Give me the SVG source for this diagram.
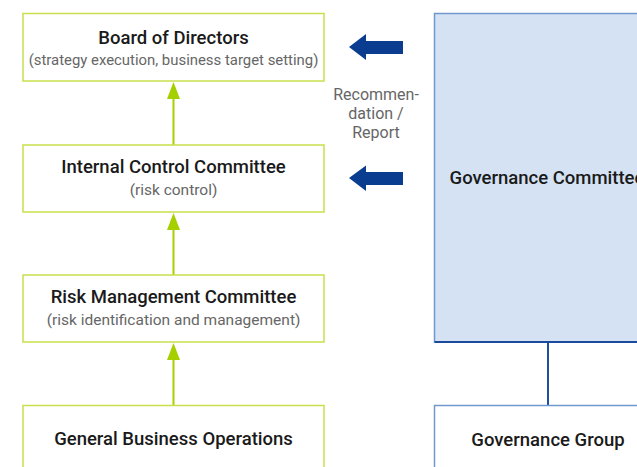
<svg xmlns="http://www.w3.org/2000/svg" width="637" height="467" viewBox="0 0 637 467">
<style>
.gbox{fill:#ffffff;stroke:#c9e04c;stroke-width:1.5}
.bbox{fill:#d4e2f4;stroke:#7197cf;stroke-width:1.5}
.wbox{fill:#ffffff;stroke:#7197cf;stroke-width:1.5}
.t{font-family:Roboto,"Liberation Sans",sans-serif;font-size:18.5px;font-weight:500;fill:#1a1a1a;text-anchor:middle}
.s{font-family:Roboto,"Liberation Sans",sans-serif;font-size:15.5px;fill:#666666;text-anchor:middle}
.r{font-family:Roboto,"Liberation Sans",sans-serif;font-size:16px;fill:#666666;text-anchor:middle}
.g{stroke:#a6cf00;stroke-width:2;fill:none}
.ga{fill:#a6cf00}
.ba{fill:#0a3d8f}
</style>
<g id="connectors">
<line class="g" x1="173.5" y1="145" x2="173.5" y2="96"/>
<polygon class="ga" points="173.5,82 180,99 167,99"/>
<line class="g" x1="173.5" y1="275" x2="173.5" y2="227"/>
<polygon class="ga" points="173.5,213 180,230 167,230"/>
<line class="g" x1="173.5" y1="405" x2="173.5" y2="357"/>
<polygon class="ga" points="173.5,343 180,360 167,360"/>
<polygon class="ba" points="349,47 366,34 366,41 403,41 403,54 366,54 366,60"/>
<polygon class="ba" points="349,178 366,165.5 366,172 403,172 403,185 366,185 366,191"/>
<line x1="548" y1="342" x2="548" y2="406" stroke="#1f4f9f" stroke-width="2"/>
<text class="r" x="376" y="100">Recommen-</text>
<text class="r" x="376" y="119">dation /</text>
<text class="r" x="376" y="138">Report</text>
</g>
<g id="board">
<rect class="gbox" x="23" y="13.5" width="301" height="67.5"/>
<text class="t" x="173.5" y="44">Board of Directors</text>
<text class="s" x="173.5" y="65" style="font-size:14.9px">(strategy execution, business target setting)</text>
</g>
<g id="internal">
<rect class="gbox" x="23" y="145" width="301" height="67"/>
<text class="t" x="173.5" y="173">Internal Control Committee</text>
<text class="s" x="173.5" y="194.5">(risk control)</text>
</g>
<g id="risk">
<rect class="gbox" x="23" y="275" width="301" height="67"/>
<text class="t" x="173.5" y="303">Risk Management Committee</text>
<text class="s" x="173.5" y="325">(risk identification and management)</text>
</g>
<g id="general">
<rect class="gbox" x="23" y="405.5" width="301" height="80"/>
<text class="t" x="173.5" y="445">General Business Operations</text>
</g>
<g id="govcommittee">
<rect class="bbox" x="434.5" y="13.5" width="240" height="328.5"/>
<line x1="434.5" y1="342" x2="637" y2="342" stroke="#1a4a9c" stroke-width="2"/>
<text class="t" x="547" y="184">Governance Committee</text>
</g>
<g id="govgroup">
<rect class="wbox" x="434.5" y="405.5" width="240" height="80"/>
<text class="t" x="548" y="446">Governance Group</text>
</g>
</svg>
